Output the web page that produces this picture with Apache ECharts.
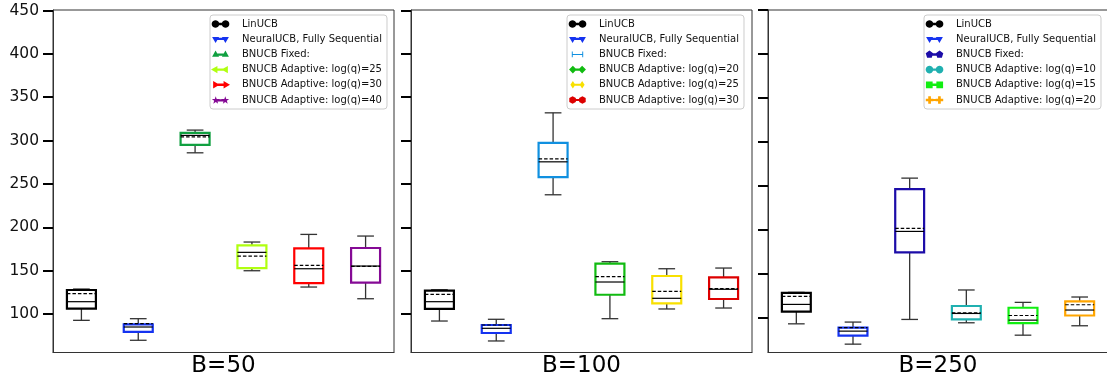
<!DOCTYPE html>
<html>
<head>
<meta charset="utf-8">
<script src="https://cdn.jsdelivr.net/npm/echarts@6/dist/echarts.min.js"></script>
<style>
  html, body { margin: 0; padding: 0; background: #fff; }
  #chart { width: 1107px; height: 376px; }
</style>
</head>
<body>
<div id="chart"></div>
<script>
// each stats row: [low whisker, q1, median, q3, high whisker, mean]
const panelTitles = ['B=50', 'B=100', 'B=250'];
const yTicks = [100, 150, 200, 250, 300, 350, 400, 450];

const methodsB50 = ['LinUCB', 'NeuralUCB, Fully Sequential', 'BNUCB Fixed:',
  'BNUCB Adaptive: log(q)=25', 'BNUCB Adaptive: log(q)=30', 'BNUCB Adaptive: log(q)=40'];
const statsB50 = [
  [92.7, 106.1, 114.2, 127.7, 128.8, 123.4],
  [69.7, 79.3, 85.0, 88.1, 94.6, 88.8],
  [285.9, 295.1, 306.0, 308.9, 312.1, 304.3],
  [149.9, 153.0, 171.1, 179.2, 183.0, 166.8],
  [131.1, 135.7, 152.2, 175.7, 191.8, 156.1],
  [117.6, 136.1, 155.3, 176.1, 189.9, 155.0]
];
const colorsB50 = ['#000000', '#1533f0', '#10a040', '#b0ff10', '#ff0000', '#850a95'];
const markersB50 = ['o', 'v', '^', '<', '>', '*'];

const methodsB100 = ['LinUCB', 'NeuralUCB, Fully Sequential', 'BNUCB Fixed:',
  'BNUCB Adaptive: log(q)=20', 'BNUCB Adaptive: log(q)=25', 'BNUCB Adaptive: log(q)=30'];
const statsB100 = [
  [91.9, 105.8, 114.2, 126.9, 128.0, 122.7],
  [68.9, 78.1, 83.5, 87.3, 93.9, 87.3],
  [237.5, 257.9, 275.5, 297.4, 332.0, 279.0],
  [94.6, 122.2, 136.9, 158.0, 160.3, 143.0],
  [105.8, 112.3, 118.1, 143.8, 152.2, 126.2],
  [106.9, 117.3, 128.5, 142.3, 153.0, 129.2]
];
const colorsB100 = ['#000000', '#1533f0', '#1090e0', '#11bb11', '#f8e000', '#dd0000'];
const markersB100 = ['o', 'v', '|', 'D', 'd', 'h'];

const methodsB250 = ['LinUCB', 'NeuralUCB, Fully Sequential', 'BNUCB Fixed:',
  'BNUCB Adaptive: log(q)=10', 'BNUCB Adaptive: log(q)=15', 'BNUCB Adaptive: log(q)=20'];
const statsB250 = [
  [93.1, 106.9, 115.2, 128.2, 128.9, 124.3],
  [70.0, 79.8, 84.8, 88.9, 95.1, 88.9],
  [98.1, 174.3, 198.2, 246.2, 258.8, 201.7],
  [94.3, 98.1, 104.9, 113.4, 131.6, 105.7],
  [80.2, 93.9, 97.3, 111.4, 117.5, 102.6],
  [90.9, 102.6, 108.8, 118.6, 123.6, 114.8]
];
const colorsB250 = ['#000000', '#1533f0', '#1c0ca8', '#20b0b0', '#11ee11', '#ffa500'];
const markersB250 = ['o', 'v', 'p', 'o', 's', 'P'];

const panels = [
  { methods: methodsB50, stats: statsB50, colors: colorsB50, markers: markersB50, yMin: 55.6, yMax: 450.6, left: 53, width: 341, legendLeft: 210, labels: true },
  { methods: methodsB100, stats: statsB100, colors: colorsB100, markers: markersB100, yMin: 55.6, yMax: 450.6, left: 411, width: 341, legendLeft: 567, labels: false },
  { methods: methodsB250, stats: statsB250, colors: colorsB250, markers: markersB250, yMin: 60.5, yMax: 450, left: 768, width: 340, legendLeft: 924, labels: false }
];

// legend icon: two markers joined by a short bar (matplotlib numpoints=2 look)
function poly(cx, cy, pts) {
  return 'M' + pts.map(p => (cx + p[0]).toFixed(2) + ',' + (cy + p[1]).toFixed(2)).join(' L') + ' Z ';
}
function ring(r, n, start) {
  const out = [];
  for (let k = 0; k < n; k++) {
    const a = (start + 360 * k / n) * Math.PI / 180;
    out.push([r * Math.cos(a), r * Math.sin(a)]);
  }
  return out;
}
function markerPts(kind) {
  switch (kind) {
    case 'o': return ring(8.3, 20, 0);
    case 'v': return ring(9, 3, 90);
    case '^': return ring(9, 3, -90);
    case '<': return ring(9, 3, 180);
    case '>': return ring(9, 3, 0);
    case 'D': return ring(9, 4, 0);
    case 'd': return ring(9, 4, 0).map(p => [p[0] * 0.65, p[1]]);
    case 'h': return ring(8.5, 6, -90);
    case 'p': return ring(8.5, 5, -90);
    case 's': return ring(10, 4, 45);
    case '*': return ring(1, 10, -90).map((p, k) => [p[0] * (k % 2 ? 3.8 : 9.5), p[1] * (k % 2 ? 3.8 : 9.5)]);
    case 'P': return [[-3,-8.5],[3,-8.5],[3,-3],[8.5,-3],[8.5,3],[3,3],[3,8.5],[-3,8.5],[-3,3],[-8.5,3],[-8.5,-3],[-3,-3]];
    case '|': return [[-1, -6], [1, -6], [1, 6], [-1, 6]];
  }
}
function legendIcon(kind) {
  const pts = markerPts(kind);
  const thick = kind === '|' ? 1 : 2.5;
  let d = poly(9, 8, pts) + poly(31, 8, pts);
  d += poly(0, 0, [[9, 8 - thick], [31, 8 - thick], [31, 8 + thick], [9, 8 + thick]]);
  // keep every icon on the same 40x16 frame
  d += 'M0,0 L0.01,0 Z M40,16 L39.99,16 Z';
  return 'path://' + d;
}

function renderBox(params, api) {
  const cat = api.value(0);
  const lo = api.coord([cat, api.value(1)]);
  const q1 = api.coord([cat, api.value(2)]);
  const med = api.coord([cat, api.value(3)]);
  const q3 = api.coord([cat, api.value(4)]);
  const hi = api.coord([cat, api.value(5)]);
  const mean = api.coord([cat, api.value(6)]);
  const band = api.size([1, 0])[0];
  const half = band * 0.255;
  const cap = band * 0.147;
  const cx = q1[0];
  const color = api.visual('color');
  const whisk = { stroke: '#333', lineWidth: 1.3 };
  return {
    type: 'group',
    children: [
      { type: 'line', shape: { x1: cx, y1: q1[1], x2: cx, y2: lo[1] }, style: whisk },
      { type: 'line', shape: { x1: cx, y1: q3[1], x2: cx, y2: hi[1] }, style: whisk },
      { type: 'line', shape: { x1: cx - cap, y1: lo[1], x2: cx + cap, y2: lo[1] }, style: whisk },
      { type: 'line', shape: { x1: cx - cap, y1: hi[1], x2: cx + cap, y2: hi[1] }, style: whisk },
      { type: 'rect', shape: { x: cx - half, y: q3[1], width: half * 2, height: q1[1] - q3[1] },
        style: { fill: 'none', stroke: color, lineWidth: 2.2 } },
      { type: 'line', shape: { x1: cx - half, y1: med[1], x2: cx + half, y2: med[1] },
        style: { stroke: '#000', lineWidth: 1.2 } },
      { type: 'line', shape: { x1: cx - half, y1: mean[1], x2: cx + half, y2: mean[1] },
        style: { stroke: '#000', lineWidth: 1.2, lineDash: [3.5, 2] } }
    ]
  };
}

const grids = [], xAxes = [], yAxes = [], series = [], legends = [];
panels.forEach((p, i) => {
  grids.push({ left: p.left, width: p.width, top: 10, bottom: 23.5, show: true,
    outerBoundsMode: 'none', containLabel: false,
    borderColor: '#333', borderWidth: 1, backgroundColor: 'transparent' });
  xAxes.push({
    type: 'category', gridIndex: i, data: p.methods, boundaryGap: true,
    axisLine: { show: true, lineStyle: { color: '#333', width: 1 } },
    axisTick: { show: false }, axisLabel: { show: false }, splitLine: { show: false },
    name: panelTitles[i], nameLocation: 'middle', nameGap: 2,
    nameTextStyle: { fontSize: 23, color: '#000', fontFamily: 'DejaVu Sans' }
  });
  yAxes.push({
    type: 'value', gridIndex: i, min: p.yMin, max: p.yMax,
    axisLine: { show: true, lineStyle: { color: '#333', width: 1 } },
    axisTick: { show: true, length: 10, customValues: yTicks, lineStyle: { color: '#000', width: 2 } },
    axisLabel: { show: p.labels, customValues: yTicks, fontSize: 15.5, color: '#111', margin: 14, fontFamily: 'DejaVu Sans' },
    splitLine: { show: false }
  });
  p.methods.forEach((m, k) => {
    series.push({
      type: 'custom', name: m, xAxisIndex: i, yAxisIndex: i,
      itemStyle: { color: p.colors[k] },
      renderItem: renderBox,
      encode: { x: 0, y: [1, 2, 3, 4, 5, 6] },
      data: [[k].concat(p.stats[k])],
      z: 3
    });
  });
  legends.push({
    orient: 'vertical', left: p.legendLeft, top: 15, selectedMode: false,
    itemWidth: 19, itemHeight: 7.6, itemGap: 5.2,
    padding: [4, 5, 4, 1],
    backgroundColor: 'rgba(255,255,255,0.85)', borderColor: '#cccccc', borderWidth: 1, borderRadius: 3,
    textStyle: { fontSize: 10, color: '#111', fontFamily: 'DejaVu Sans', lineHeight: 10, padding: [0, 0, 0, 7] },
    data: p.methods.map((m, k) => ({
      name: m, icon: legendIcon(p.markers[k]),
      itemStyle: { color: p.colors[k], borderWidth: 0 }
    }))
  });
});

const chart = echarts.init(document.getElementById('chart'), null, { renderer: 'canvas' });
chart.setOption({
  animation: false,
  backgroundColor: '#fff',
  textStyle: { fontFamily: 'DejaVu Sans' },
  grid: grids,
  xAxis: xAxes,
  yAxis: yAxes,
  legend: legends,
  series: series
});
</script>
</body>
</html>
